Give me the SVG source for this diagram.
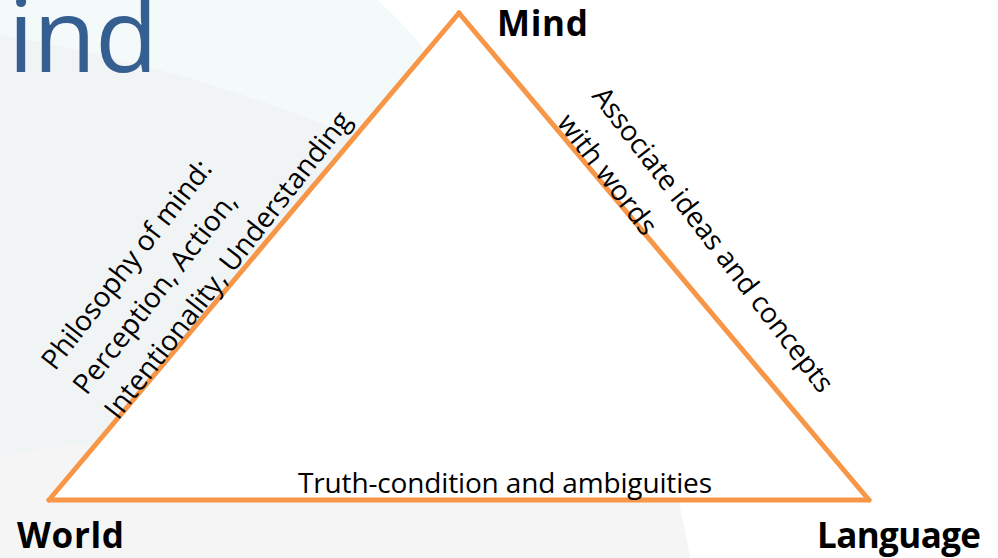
<svg xmlns="http://www.w3.org/2000/svg" width="998" height="558" viewBox="0 0 998 558">
  <style>
    .lbl { font-family: "Open Sans", "Noto Sans", "Liberation Sans", sans-serif; font-size: 28px; fill: #000000; }
    .vtx { font-family: "Open Sans", "Noto Sans", "Liberation Sans", sans-serif; font-size: 35px; font-weight: bold; fill: #000000; }
    .title { font-family: "Open Sans", "Noto Sans", "Liberation Sans", sans-serif; font-size: 103px; fill: #365f91; }
    .edge { stroke: #f79646; stroke-width: 5; stroke-linecap: round; fill: none; }
  </style>
  <rect width="998" height="558" fill="#ffffff"/>
  <g id="background">
    <path d="M0,0 L370,0 L430,60 L600,300 C640,380 670,440 690,558 L0,558 Z" fill="#f5f5f5"/>
    <path d="M0,0 L377,0 C395,15 412,33 428,55 L300,300 L0,300 Z" fill="#f4f9f9"/>
    <path d="M0,35 C120,55 250,90 385,150 L150,425 L95,442 Q45,448 0,457 Z" fill="#f0f4f5"/>
  </g>
  <text class="title" x="8" y="72" textLength="150">ind</text>
  <polygon points="459,13 869,500 49,500" fill="#ffffff"/>
  <g id="connectors">
    <line class="edge" x1="49" y1="500" x2="459" y2="13"/>
    <line class="edge" x1="459" y1="13" x2="869" y2="500"/>
    <line class="edge" x1="49" y1="500" x2="869" y2="500"/>
    <g transform="translate(118,421) rotate(-52)">
      <text class="lbl" x="0" y="-80" textLength="257">Philosophy of mind:</text>
      <text class="lbl" x="0" y="-40" textLength="247">Perception, Action,</text>
      <text class="lbl" x="0" y="0" textLength="381">Intentionality, Understanding</text>
    </g>
    <g transform="translate(556,123) rotate(52.5)">
      <text class="lbl" x="0" y="-44" textLength="376">Associate ideas and concepts</text>
      <text class="lbl" x="0" y="0" textLength="144">with words</text>
    </g>
    <text class="lbl" x="505" y="493" text-anchor="middle" textLength="414">Truth-condition and ambiguities</text>
  </g>
  <g id="node-mind">
    <text class="vtx" x="497" y="36" textLength="91">Mind</text>
  </g>
  <g id="node-world">
    <text class="vtx" x="17" y="548" textLength="107">World</text>
  </g>
  <g id="node-language">
    <text class="vtx" x="817" y="548" textLength="164">Language</text>
  </g>
</svg>
